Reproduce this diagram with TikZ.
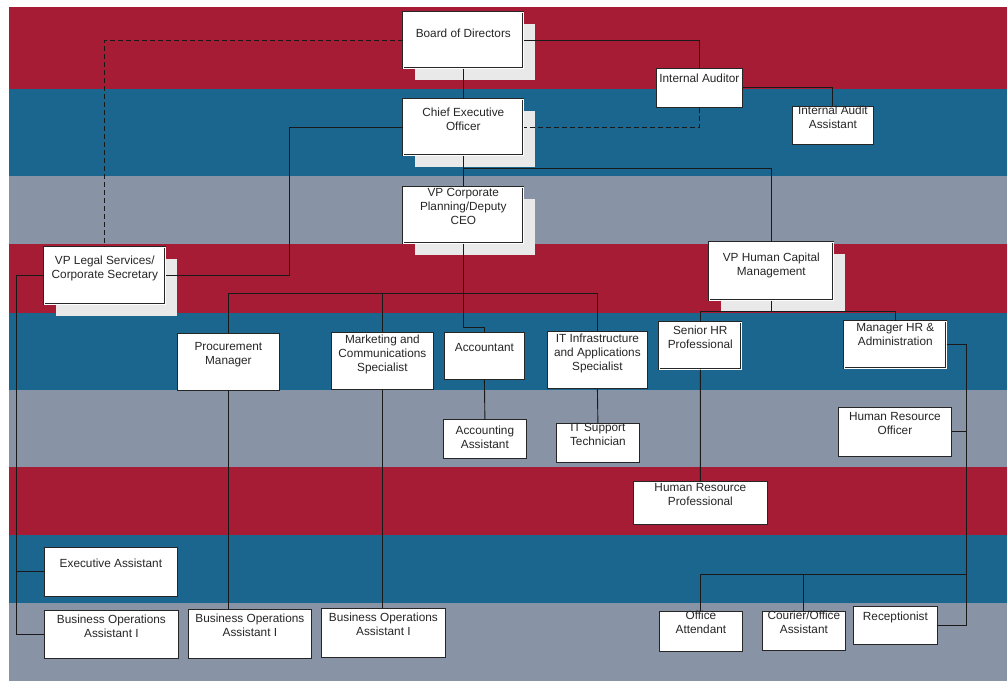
\documentclass[tikz,border=0pt]{standalone}
\usepackage{fontspec}
\setmainfont{Liberation Sans}
\usetikzlibrary{calc,shadows}

\definecolor{bandred}{RGB}{166,28,52}
\definecolor{bandblue}{RGB}{26,102,142}
\definecolor{bandgray}{RGB}{136,148,166}
\definecolor{shadowgray}{RGB}{233,233,233}

\tikzset{
  orgbox/.style={draw=black!85, fill=white, line width=0.8pt, inner sep=0pt, anchor=north west},
  mainbox/.style={orgbox, double=white, double distance=1pt, line width=0.6pt,
    drop shadow={shadow xshift=12pt, shadow yshift=-12pt, fill=shadowgray, opacity=1}},
  lbl/.style={font=\fontsize{11.8}{14}\selectfont, text=black!85, align=center, inner sep=0pt, anchor=north},
  link/.style={draw=black!90, line width=0.9pt},
  dotlink/.style={link, dash pattern=on 5pt off 3pt}
}

\begin{document}
\begin{tikzpicture}[x=1pt,y=-1pt]
    \useasboundingbox (0,0) rectangle (1007,681);
    \fill[white] (0,0) rectangle (1007,681);

    % colour bands
    \fill[bandred]  (9,7)   rectangle (1007,89);
    \fill[bandblue] (9,89)  rectangle (1007,176);
    \fill[bandgray] (9,176) rectangle (1007,244);
    \fill[bandred]  (9,244) rectangle (1007,313);
    \fill[bandblue] (9,313) rectangle (1007,390);
    \fill[bandgray] (9,390) rectangle (1007,467);
    \fill[bandred]  (9,467) rectangle (1007,535);
    \fill[bandblue] (9,535) rectangle (1007,603);
    \fill[bandgray] (9,603) rectangle (1007,681);

    % top level
    \node[mainbox, minimum width=120pt, minimum height=56pt,
      label={[lbl,yshift=-17pt]north:Board of Directors}] (bod) at (403,12) {};
    \node[mainbox, minimum width=120pt, minimum height=56pt,
      label={[lbl,yshift=-9pt]north:Chief Executive\\Officer}] (ceo) at (403,99) {};
    \node[mainbox, minimum width=120pt, minimum height=56pt,
      label={[lbl,yshift=-1pt]north:VP Corporate\\Planning/Deputy\\CEO}] (vpcp) at (403,187) {};
    \node[mainbox, minimum width=121pt, minimum height=57pt,
      label={[lbl,yshift=-9pt]north:VP Legal Services/\\Corporate Secretary}] (legal) at (44,247) {};
    \node[mainbox, minimum width=124pt, minimum height=58pt,
      label={[lbl,yshift=-11pt]north:VP Human Capital\\Management}] (hcm) at (709,242) {};

    \node[orgbox, minimum width=86pt, minimum height=39pt,
      label={[lbl,yshift=-6pt]north:Internal Auditor}] (audit) at (656,68) {};
    \node[orgbox, minimum width=81pt, minimum height=38pt,
      label={[lbl]north:Internal Audit\\Assistant}] (auditasst) at (792,106) {};

    % second level
    \node[orgbox, minimum width=102pt, minimum height=57pt,
      label={[lbl,yshift=-9pt]north:Procurement\\Manager}] (proc) at (177,333) {};
    \node[orgbox, minimum width=102pt, minimum height=57pt,
      label={[lbl,yshift=-3pt]north:Marketing and\\Communications\\Specialist}] (mkt) at (331,332) {};
    \node[orgbox, minimum width=80pt, minimum height=47pt,
      label={[lbl,yshift=-11pt]north:Accountant}] (acct) at (444,332) {};
    \node[orgbox, minimum width=100pt, minimum height=57pt,
      label={[lbl,yshift=-3pt]north:IT Infrastructure\\and Applications\\Specialist}] (itinf) at (547,331) {};
    \node[orgbox, double=white, double distance=1pt, line width=0.6pt, minimum width=82pt, minimum height=47pt,
      label={[lbl,yshift=-4pt]north:Senior HR\\Professional}] (senhr) at (659,322) {};
    \node[orgbox, double=white, double distance=1pt, line width=0.6pt, minimum width=102pt, minimum height=47pt,
      label={[lbl,yshift=-2pt]north:Manager HR \&\\Administration}] (mgrhr) at (844,321) {};

    % third level
    \node[orgbox, minimum width=83pt, minimum height=39pt,
      label={[lbl,yshift=-7pt]north:Accounting\\Assistant}] (acctasst) at (443,419) {};
    \node[orgbox, minimum width=83pt, minimum height=39pt,
      label={[lbl]north:IT Support\\Technician}] (itsup) at (556,423) {};
    \node[orgbox, minimum width=113pt, minimum height=49pt,
      label={[lbl,yshift=-5pt]north:Human Resource\\Officer}] (hro) at (838,407) {};
    \node[orgbox, minimum width=134pt, minimum height=43pt,
      label={[lbl,yshift=-2pt]north:Human Resource\\Professional}] (hrp) at (633,481) {};

    % bottom rows
    \node[orgbox, minimum width=133pt, minimum height=49pt,
      label={[lbl,yshift=-12pt]north:Executive Assistant}] (exec) at (44,547) {};
    \node[orgbox, minimum width=134pt, minimum height=48pt,
      label={[lbl,yshift=-5pt]north:Business Operations\\Assistant I}] (boa1) at (44,610) {};
    \node[orgbox, minimum width=123pt, minimum height=49pt,
      label={[lbl,yshift=-5pt]north:Business Operations\\Assistant I}] (boa2) at (188,609) {};
    \node[orgbox, minimum width=124pt, minimum height=49pt,
      label={[lbl,yshift=-5pt]north:Business Operations\\Assistant I}] (boa3) at (321,608) {};
    \node[orgbox, minimum width=83pt, minimum height=40pt,
      label={[lbl]north:Office\\Attendant}] (office) at (659,611) {};
    \node[orgbox, minimum width=83pt, minimum height=39pt,
      label={[lbl]north:Courier/Office\\Assistant}] (courier) at (762,611) {};
    \node[orgbox, minimum width=84pt, minimum height=38pt,
      label={[lbl,yshift=-6pt]north:Receptionist}] (recep) at (853,606) {};

    % reporting lines
    \draw[link] (bod.south) -- (ceo.north);
    \draw[link] (ceo.south) -- (vpcp.north);
    \draw[dotlink] (bod.west) -| (legal.north);
    \draw[link] (bod.east) -| (audit.north);
    \draw[dotlink] (audit.south) |- (ceo.east);
    \draw[link] (audit.east) -| (auditasst.north);
    \draw[link] (ceo.west) -| ($(legal.east)+(124,0)$) -- (legal.east);
    \draw[link] ($(ceo.south)!0.4!(vpcp.north)$) -| (hcm.north);

    \coordinate (bus1) at ($(vpcp.south)+(0,50)$);
    \draw[link] (vpcp.south) |- ($(acct.north)+(0,-5)$) -- (acct.north);
    \draw[link] (proc.north) |- (bus1) -| (itinf.north);
    \draw[link] (mkt.north) -- (mkt.north |- bus1);
    \draw[link] (acct.south) -- (acctasst.north);
    \draw[link] (itinf.south) -- (itsup.north);
    \draw[link] (proc.south) -- (proc.south |- boa2.north);
    \draw[link] (mkt.south) -- (mkt.south |- boa3.north);

    \coordinate (legl) at ($(boa1.west)+(-28,0)$);
    \draw[link] (legal.west) -| (legl) -- (boa1.west);
    \draw[link] (exec.west) -- (exec.west -| legl);

    \coordinate (bus2) at ($(hcm.south)+(0,11)$);
    \draw[link] (hcm.south) -- (bus2);
    \draw[link] (senhr.north) |- (bus2) -| (mgrhr.north);
    \draw[link] (senhr.south) -- (hrp.north);

    \coordinate (admr) at ($(recep.east)+(29,0)$);
    \draw[link] (mgrhr.east) -| (admr) -- (recep.east);
    \draw[link] (hro.east) -- (hro.east -| admr);
    \coordinate (bus3) at ($(admr)+(0,-51)$);
    \draw[link] (office.north) |- (bus3);
    \draw[link] (courier.north) -- (courier.north |- bus3);
\end{tikzpicture}
\end{document}
